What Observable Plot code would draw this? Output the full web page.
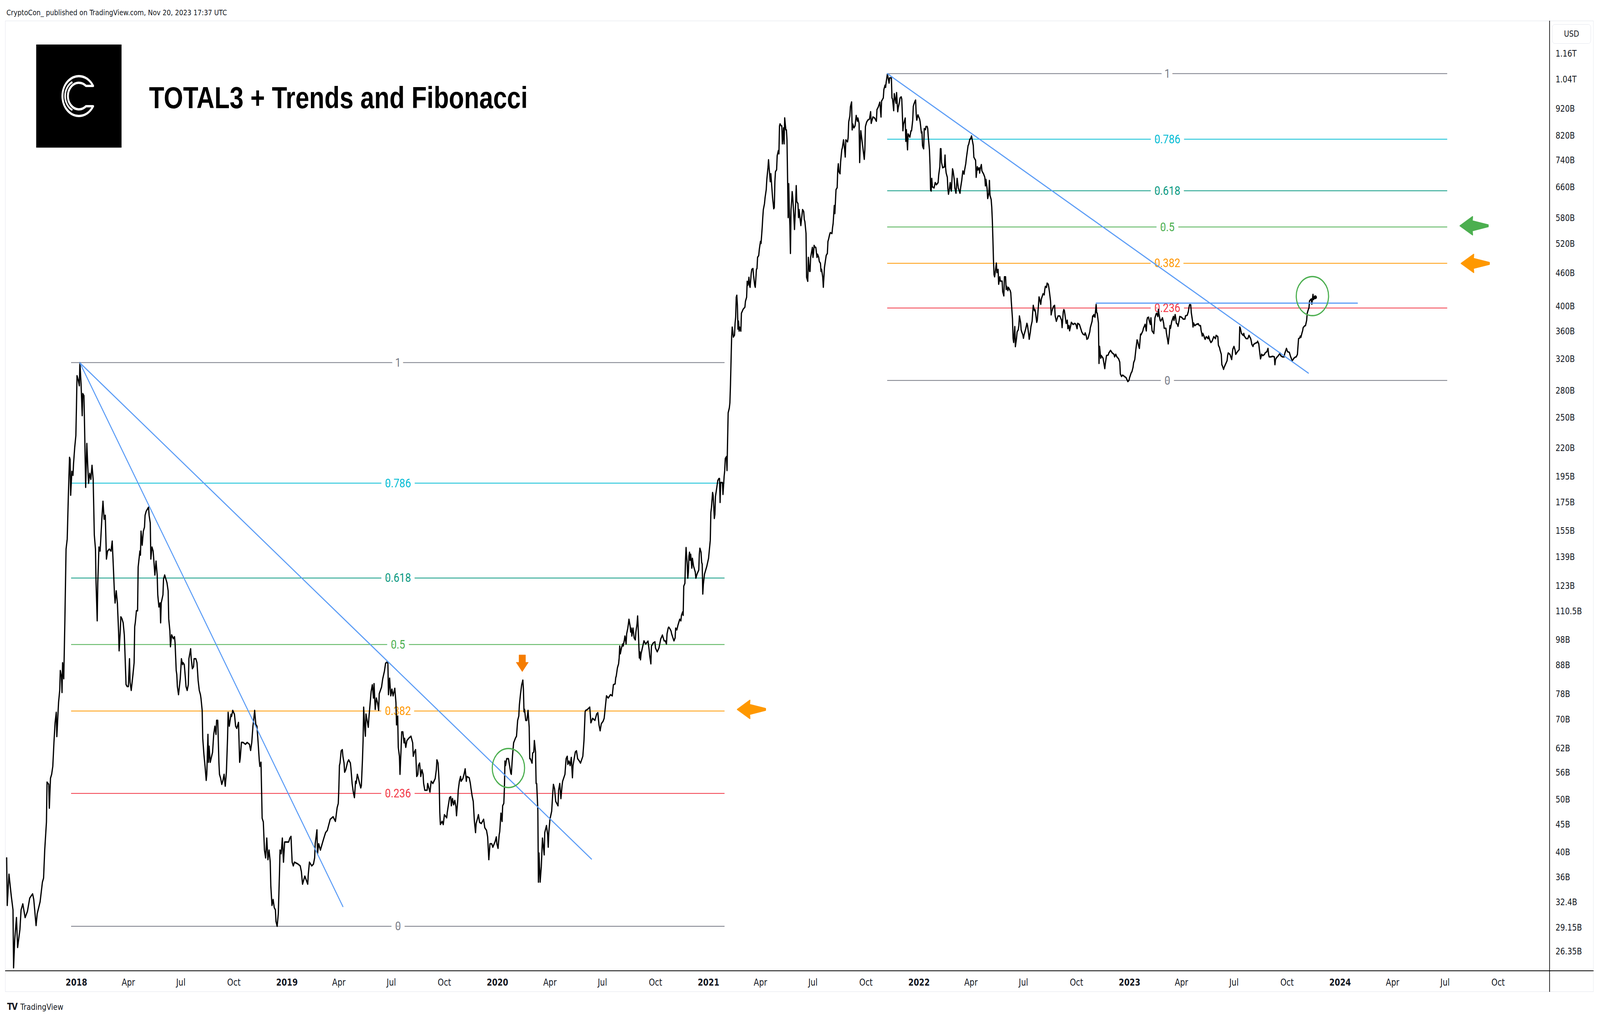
<!DOCTYPE html>
<html>
<head>
<meta charset="utf-8">
<script src="https://cdn.jsdelivr.net/npm/d3@7"></script>
<script src="https://cdn.jsdelivr.net/npm/@observablehq/plot@0.6"></script>
<style>
html,body{margin:0;padding:0;background:#fff;overflow:hidden;}
#wrap{position:relative;overflow:hidden;width:4950px;height:2612px;}
#page{position:absolute;left:0;top:0;width:4950px;height:2612px;overflow:hidden;background:#fff;font-family:"DejaVu Sans",sans-serif;color:#131722;transform-origin:0 0;}
.abs{position:absolute;}
#pub{left:20px;top:22px;font-size:20px;line-height:20px;white-space:nowrap;}
#panel{left:16px;top:53px;width:4914px;height:2487px;box-sizing:border-box;border:1px solid #e0e3eb;}
#chart{left:16px;top:53px;}
#xline{left:16px;top:2485px;width:4914px;height:2px;background:#000;}
#yline{left:4793px;top:53px;width:2px;height:2487px;background:#000;}
#usd{left:4802px;top:62px;width:120px;height:50px;box-sizing:border-box;border:1px solid #e0e3eb;border-radius:8px;font-size:22px;line-height:48px;text-align:center;}
#logo{left:112px;top:114px;width:264px;height:264px;background:#000;}
#title{left:461px;top:212px;font-family:"Liberation Sans",Arial,sans-serif;font-weight:bold;font-size:77px;line-height:77px;white-space:nowrap;color:#000;}
#tv{left:22px;top:2567px;font-size:22px;line-height:22px;white-space:nowrap;}
#tv b{font-size:24px;letter-spacing:-2px;margin-right:10px;}
</style>
</head>
<body>
<div id="wrap">
<div id="page">
  <div id="pub" class="abs">CryptoCon_ published on TradingView.com, Nov 20, 2023 17:37 UTC</div>
  <div id="panel" class="abs"></div>
  <div id="chart" class="abs"></div>
  <div id="xline" class="abs"></div>
  <div id="yline" class="abs"></div>
  <div id="usd" class="abs">USD</div>
  <div id="logo" class="abs"><svg width="264" height="264" viewBox="0 0 264 264"><path d="M176,106 A51,51 0 1 0 176,158 L154,158 A34,34 0 1 1 154,106 Z" fill="none" stroke="#fff" stroke-width="6" stroke-linejoin="round"/><path d="M112,96 A40,40 0 0 0 112,168" fill="none" stroke="#fff" stroke-width="5"/></svg></div>
  <div id="title" class="abs">TOTAL3 + Trends and Fibonacci</div>
  <div id="tv" class="abs"><b>TV</b>TradingView</div>
</div>
</div>
<script>
// ---------- DATA (values in billions USD) ----------
const t2017 = [["2017-09-02",39.1],["2017-09-03",32.0],["2017-09-06",36.5],["2017-09-10",33.3],["2017-09-13",31.4],["2017-09-14",24.6],["2017-09-16",27.7],["2017-09-19",30.4],["2017-09-21",26.8],["2017-09-25",28.9],["2017-09-27",31.4],["2017-09-30",32.2],["2017-10-04",30.4],["2017-10-08",31.2],["2017-10-12",33.0],["2017-10-17",33.6],["2017-10-19",32.8],["2017-10-23",29.4],["2017-10-25",30.9],["2017-10-30",32.5],["2017-11-03",35.3],["2017-11-05",35.9],["2017-11-07",40.4],["2017-11-10",45.5],["2017-11-11",53.8],["2017-11-14",53.3],["2017-11-15",48.2],["2017-11-17",54.7],["2017-11-19",55.6],["2017-11-21",57.5],["2017-11-23",63.6],["2017-11-25",69.2],["2017-11-27",72.2],["2017-11-28",65.2],["2017-12-01",75.3],["2017-12-03",79.2],["2017-12-04",86.1],["2017-12-06",84.0],["2017-12-07",78.5],["2017-12-08",89.0],["2017-12-10",83.2],["2017-12-12",107.1],["2017-12-14",143.7],["2017-12-16",149.9],["2017-12-18",180.3],["2017-12-20",211.5],["2017-12-21",209.7],["2017-12-22",180.3],["2017-12-24",199.4],["2017-12-26",196.1],["2017-12-27",206.2],["2017-12-29",220.5],["2017-12-31",231.9]];
const t2018 = [["2018-01-01",260.9],["2018-01-02",298.4],["2018-01-04",293.4],["2018-01-06",286.1],["2018-01-07",315.0],["2018-01-09",288.5],["2018-01-11",252.2],["2018-01-12",276.7],["2018-01-14",274.3],["2018-01-15",243.9],["2018-01-17",186.4],["2018-01-19",224.3],["2018-01-21",199.4],["2018-01-22",189.6],["2018-01-24",197.7],["2018-01-26",192.8],["2018-01-28",204.5],["2018-01-30",192.8],["2018-01-31",171.4],["2018-02-01",152.4],["2018-02-03",143.7],["2018-02-04",124.6],["2018-02-06",106.2],["2018-02-07",124.6],["2018-02-09",144.9],["2018-02-11",142.5],["2018-02-12",148.6],["2018-02-14",163.0],["2018-02-16",175.8],["2018-02-18",163.0],["2018-02-20",165.7],["2018-02-22",137.8],["2018-02-24",142.5],["2018-02-27",143.7],["2018-03-02",142.5],["2018-03-04",148.6],["2018-03-06",133.2],["2018-03-08",118.5],["2018-03-09",114.5],["2018-03-11",120.5],["2018-03-13",114.5],["2018-03-15",101.8],["2018-03-16",93.6],["2018-03-18",101.8],["2018-03-19",108.0],["2018-03-21",107.1],["2018-03-23",105.3],["2018-03-25",100.1],["2018-03-26",93.6],["2018-03-28",81.2],["2018-03-30",80.5],["2018-04-01",80.5],["2018-04-03",90.5],["2018-04-04",81.9],["2018-04-06",79.2],["2018-04-09",84.7],["2018-04-11",89.0],["2018-04-12",103.6],["2018-04-13",105.3],["2018-04-15",110.8],["2018-04-17",110.8],["2018-04-18",133.2],["2018-04-21",142.5],["2018-04-22",140.1],["2018-04-23",155.0],["2018-04-25",146.1],["2018-04-27",155.0],["2018-04-29",157.6],["2018-04-30",165.7],["2018-05-02",168.6],["2018-05-04",170.0],["2018-05-06",171.4],["2018-05-07",165.7],["2018-05-09",160.3],["2018-05-10",137.8],["2018-05-12",144.9],["2018-05-14",142.5],["2018-05-16",133.2],["2018-05-17",128.8],["2018-05-19",136.6],["2018-05-21",128.8],["2018-05-22",118.5],["2018-05-24",112.6],["2018-05-26",114.5],["2018-05-27",105.3],["2018-05-28",114.5],["2018-05-31",118.5],["2018-06-01",126.7],["2018-06-03",128.8],["2018-06-07",124.6],["2018-06-09",120.5],["2018-06-10",107.1],["2018-06-12",101.8],["2018-06-13",95.2],["2018-06-15",100.1],["2018-06-18",98.5],["2018-06-20",99.3],["2018-06-21",96.8],["2018-06-23",86.1],["2018-06-24",84.7],["2018-06-25",80.5],["2018-06-27",77.8],["2018-06-30",83.2],["2018-07-02",90.5],["2018-07-04",88.3],["2018-07-05",89.0],["2018-07-07",88.3],["2018-07-09",83.2],["2018-07-10",80.5],["2018-07-12",79.2],["2018-07-14",81.2],["2018-07-15",90.5],["2018-07-18",94.4],["2018-07-19",90.5],["2018-07-21",86.8],["2018-07-23",87.5],["2018-07-24",90.5],["2018-07-27",90.5],["2018-07-29",89.0],["2018-07-31",82.6],["2018-08-02",79.2],["2018-08-04",77.8],["2018-08-05",76.5],["2018-08-07",72.8],["2018-08-08",64.7],["2018-08-10",60.5],["2018-08-12",57.5],["2018-08-14",54.2],["2018-08-15",55.6],["2018-08-17",65.8],["2018-08-18",58.5],["2018-08-19",62.6],["2018-08-21",58.5],["2018-08-25",61.0],["2018-08-27",65.8],["2018-08-29",68.1],["2018-08-31",65.8],["2018-09-01",69.8],["2018-09-03",69.8],["2018-09-05",58.5],["2018-09-06",55.6],["2018-09-08",54.7],["2018-09-10",53.3],["2018-09-12",54.2],["2018-09-14",55.6],["2018-09-16",52.9],["2018-09-18",56.1],["2018-09-20",64.7],["2018-09-21",72.2],["2018-09-23",68.1],["2018-09-26",71.6],["2018-09-27",71.0],["2018-09-29",72.8],["2018-10-02",71.6],["2018-10-04",68.1],["2018-10-06",67.5],["2018-10-09",69.2],["2018-10-11",58.5],["2018-10-12",59.5],["2018-10-14",63.6],["2018-10-17",63.6],["2018-10-21",63.1],["2018-10-24",63.6],["2018-10-28",63.1],["2018-10-30",61.5],["2018-11-01",63.6],["2018-11-03",68.1],["2018-11-05",71.0],["2018-11-06",72.8],["2018-11-08",68.6],["2018-11-10",68.1],["2018-11-12",63.6],["2018-11-14",59.0],["2018-11-15",57.5],["2018-11-17",58.5],["2018-11-19",46.2],["2018-11-21",45.5],["2018-11-23",40.4],["2018-11-25",39.1],["2018-11-27",42.5],["2018-11-29",38.8],["2018-12-01",40.4],["2018-12-03",38.4],["2018-12-04",34.8],["2018-12-06",32.0],["2018-12-08",32.8],["2018-12-10",31.7],["2018-12-12",31.4],["2018-12-13",29.9],["2018-12-15",29.3],["2018-12-17",30.9],["2018-12-19",36.5],["2018-12-20",40.4],["2018-12-22",39.8],["2018-12-24",42.5],["2018-12-26",38.4],["2018-12-28",41.8],["2018-12-31",41.8]];
const t2019 = [["2019-01-04",41.8],["2019-01-06",42.5],["2019-01-08",42.8],["2019-01-10",38.4],["2019-01-12",37.8],["2019-01-14",38.4],["2019-01-20",38.1],["2019-01-24",37.8],["2019-01-26",36.9],["2019-01-28",35.0],["2019-02-01",36.2],["2019-02-06",35.0],["2019-02-07",36.5],["2019-02-09",38.4],["2019-02-13",37.8],["2019-02-16",38.1],["2019-02-18",39.1],["2019-02-19",41.5],["2019-02-22",44.0],["2019-02-23",39.8],["2019-02-25",41.5],["2019-02-28",40.4],["2019-03-04",41.8],["2019-03-06",42.5],["2019-03-09",43.5],["2019-03-12",43.9],["2019-03-17",46.0],["2019-03-22",46.5],["2019-03-26",45.6],["2019-03-29",48.3],["2019-03-31",49.2],["2019-04-01",52.5],["2019-04-02",57.7],["2019-04-03",58.3],["2019-04-05",61.4],["2019-04-07",61.7],["2019-04-08",60.0],["2019-04-10",58.3],["2019-04-11",56.1],["2019-04-13",56.7],["2019-04-16",58.5],["2019-04-18",59.1],["2019-04-21",58.3],["2019-04-22",56.9],["2019-04-24",53.5],["2019-04-26",51.6],["2019-04-28",50.4],["2019-04-30",54.0],["2019-05-01",53.5],["2019-05-03",55.6],["2019-05-05",54.6],["2019-05-07",53.5],["2019-05-09",52.5],["2019-05-10",53.0],["2019-05-12",59.4],["2019-05-13",64.1],["2019-05-14",73.8],["2019-05-16",67.2],["2019-05-17",65.3],["2019-05-18",71.7],["2019-05-20",69.8],["2019-05-22",67.8],["2019-05-23",70.4],["2019-05-25",74.5],["2019-05-27",78.9],["2019-05-29",81.1],["2019-05-31",76.7],["2019-06-01",81.5],["2019-06-03",73.1],["2019-06-05",76.7],["2019-06-07",75.2],["2019-06-09",72.8],["2019-06-10",78.1],["2019-06-14",80.3],["2019-06-16",83.1],["2019-06-19",85.9],["2019-06-21",88.8],["2019-06-23",89.2],["2019-06-25",88.8],["2019-06-26",77.8],["2019-06-28",83.4],["2019-06-30",77.4],["2019-07-02",79.6],["2019-07-04",77.4],["2019-07-07",79.9],["2019-07-09",75.2],["2019-07-10",68.5],["2019-07-12",71.1],["2019-07-13",62.3],["2019-07-15",60.0],["2019-07-16",55.6],["2019-07-18",62.3],["2019-07-19",66.5],["2019-07-21",66.5],["2019-07-23",63.5],["2019-07-24",64.7],["2019-07-26",62.3],["2019-07-28",64.1],["2019-07-31",64.7],["2019-08-04",65.3],["2019-08-07",63.5],["2019-08-08",60.0],["2019-08-10",61.1],["2019-08-12",61.7],["2019-08-14",55.1],["2019-08-16",55.6],["2019-08-17",57.7],["2019-08-19",58.3],["2019-08-21",55.1],["2019-08-23",56.7],["2019-08-25",55.6],["2019-08-26",53.5],["2019-08-28",52.0],["2019-09-01",52.0],["2019-09-02",53.5],["2019-09-04",52.5],["2019-09-06",51.6],["2019-09-08",54.0],["2019-09-11",53.5],["2019-09-15",54.6],["2019-09-17",56.7],["2019-09-18",59.1],["2019-09-20",58.3],["2019-09-22",53.5],["2019-09-23",47.4],["2019-09-24",45.0],["2019-09-27",45.6],["2019-09-29",45.0],["2019-10-01",46.9],["2019-10-05",46.3],["2019-10-06",47.4],["2019-10-08",48.9],["2019-10-10",50.4],["2019-10-12",50.6],["2019-10-13",48.7],["2019-10-15",50.2],["2019-10-17",48.9],["2019-10-19",49.8],["2019-10-21",48.5],["2019-10-22",46.7],["2019-10-24",49.6],["2019-10-25",52.0],["2019-10-27",54.0],["2019-10-29",55.1],["2019-10-30",54.0],["2019-11-02",54.6],["2019-11-04",55.6],["2019-11-06",56.9],["2019-11-08",54.0],["2019-11-09",55.1],["2019-11-13",54.8],["2019-11-15",53.5],["2019-11-16",52.5],["2019-11-18",50.8],["2019-11-20",49.6],["2019-11-22",45.6],["2019-11-24",43.5],["2019-11-25",45.2],["2019-11-27",46.0],["2019-11-29",46.9],["2019-12-01",45.4],["2019-12-04",45.2],["2019-12-08",46.0],["2019-12-10",44.4],["2019-12-13",43.9],["2019-12-15",42.7],["2019-12-17",38.8],["2019-12-19",41.5],["2019-12-22",41.5],["2019-12-24",40.9],["2019-12-28",41.9],["2019-12-30",42.7],["2019-12-31",41.5]];
const t2020 = [["2020-01-02",40.7],["2020-01-04",43.1],["2020-01-05",43.7],["2020-01-07",47.2],["2020-01-09",45.6],["2020-01-10",48.7],["2020-01-12",49.2],["2020-01-13",52.3],["2020-01-14",58.8],["2020-01-15",57.7],["2020-01-17",59.4],["2020-01-20",59.4],["2020-01-22",57.7],["2020-01-24",55.9],["2020-01-25",55.6],["2020-01-27",60.0],["2020-01-29",63.5],["2020-02-01",64.7],["2020-02-03",65.3],["2020-02-05",69.8],["2020-02-07",71.1],["2020-02-08",74.5],["2020-02-10",78.1],["2020-02-11",79.6],["2020-02-12",81.1],["2020-02-14",82.7],["2020-02-15",79.6],["2020-02-16",72.4],["2020-02-17",73.1],["2020-02-19",69.8],["2020-02-21",69.8],["2020-02-23",72.8],["2020-02-25",67.8],["2020-02-26",59.4],["2020-02-27",59.4],["2020-03-01",58.3],["2020-03-02",60.8],["2020-03-04",61.1],["2020-03-05",64.1],["2020-03-07",61.1],["2020-03-08",53.5],["2020-03-09",53.5],["2020-03-11",47.8],["2020-03-12",35.3],["2020-03-13",39.9],["2020-03-15",35.3],["2020-03-17",37.7],["2020-03-19",42.5],["2020-03-20",41.5],["2020-03-22",39.6],["2020-03-23",43.5],["2020-03-26",44.8],["2020-03-28",43.1],["2020-03-29",40.9],["2020-03-30",43.5],["2020-04-01",46.0],["2020-04-04",47.6],["2020-04-06",51.6],["2020-04-07",53.3],["2020-04-09",52.3],["2020-04-11",49.6],["2020-04-15",48.7],["2020-04-16",52.0],["2020-04-18",53.5],["2020-04-20",50.2],["2020-04-22",53.0],["2020-04-23",54.0],["2020-04-27",55.6],["2020-04-29",59.4],["2020-05-01",60.0],["2020-05-02",58.0],["2020-05-04",58.8],["2020-05-06",57.7],["2020-05-08",59.7],["2020-05-10",54.8],["2020-05-11",57.7],["2020-05-15",61.1],["2020-05-17",61.4],["2020-05-19",59.4],["2020-05-22",58.8],["2020-05-24",58.3],["2020-05-28",60.0],["2020-05-30",64.1],["2020-06-01",72.4],["2020-06-02",72.8],["2020-06-05",73.1],["2020-06-09",73.8],["2020-06-11",69.1],["2020-06-14",70.4],["2020-06-18",69.8],["2020-06-21",71.7],["2020-06-23",72.1],["2020-06-25",68.5],["2020-06-27",66.8],["2020-06-29",68.8],["2020-07-02",69.5],["2020-07-04",70.4],["2020-07-06",73.8],["2020-07-08",77.4],["2020-07-11",76.7],["2020-07-15",77.8],["2020-07-18",77.4],["2020-07-20",81.1],["2020-07-23",81.4],["2020-07-24",83.5],["2020-07-25",84.2],["2020-07-27",87.1],["2020-07-29",88.6],["2020-07-30",90.8],["2020-07-31",95.5],["2020-08-01",92.4],["2020-08-03",94.7],["2020-08-05",96.3],["2020-08-06",95.5],["2020-08-08",98.0],["2020-08-09",99.6],["2020-08-11",96.3],["2020-08-12",100.5],["2020-08-14",103.0],["2020-08-15",104.8],["2020-08-16",106.9],["2020-08-18",103.9],["2020-08-19",101.3],["2020-08-20",103.0],["2020-08-21",99.6],["2020-08-23",103.0],["2020-08-25",98.8],["2020-08-27",98.0],["2020-08-28",101.3],["2020-08-30",104.8],["2020-08-31",108.4],["2020-09-01",103.0],["2020-09-03",90.8],["2020-09-04",93.2],["2020-09-05",90.1],["2020-09-06",92.4],["2020-09-09",95.5],["2020-09-11",97.6],["2020-09-14",96.3],["2020-09-17",97.2],["2020-09-18",97.5],["2020-09-20",94.0],["2020-09-21",91.6],["2020-09-23",88.6],["2020-09-24",95.5],["2020-09-27",96.7],["2020-09-30",97.2],["2020-10-01",94.7],["2020-10-04",93.2],["2020-10-07",94.7],["2020-10-10",98.3],["2020-10-13",100.0],["2020-10-16",97.6],["2020-10-18",97.6],["2020-10-20",96.3],["2020-10-21",100.5],["2020-10-23",103.0],["2020-10-24",103.4],["2020-10-26",102.7],["2020-10-28",101.7],["2020-10-29",100.5],["2020-11-01",98.3],["2020-11-02",97.6],["2020-11-04",98.8],["2020-11-05",103.0],["2020-11-07",102.2],["2020-11-09",104.3],["2020-11-12",106.9],["2020-11-14",106.2],["2020-11-15",108.7],["2020-11-17",110.2],["2020-11-18",108.7],["2020-11-19",122.9],["2020-11-21",124.4],["2020-11-22",137.1],["2020-11-23",144.6],["2020-11-25",134.8],["2020-11-26",127.1],["2020-11-27",130.4],["2020-11-28",139.4],["2020-11-29",141.8],["2020-11-30",137.1],["2020-12-01",140.6],["2020-12-03",132.6],["2020-12-04",138.2],["2020-12-06",133.7],["2020-12-09",130.4],["2020-12-10",127.1],["2020-12-12",129.3],["2020-12-15",131.5],["2020-12-16",140.6],["2020-12-17",144.2],["2020-12-19",141.8],["2020-12-20",136.0],["2020-12-21",134.8],["2020-12-22",118.9],["2020-12-23",124.0],["2020-12-25",129.3],["2020-12-26",130.4],["2020-12-29",133.7]];
const t2021 = [["2021-01-01",138.2],["2021-01-02",141.8],["2021-01-04",149.1],["2021-01-05",167.7],["2021-01-06",171.1],["2021-01-08",182.4],["2021-01-09",180.0],["2021-01-10",172.0],["2021-01-11",163.5],["2021-01-12",166.3],["2021-01-13",179.4],["2021-01-14",182.4],["2021-01-16",188.6],["2021-01-17",191.8],["2021-01-19",193.5],["2021-01-20",193.5],["2021-01-21",174.9],["2021-01-22",190.2],["2021-01-25",190.2],["2021-01-26",180.9],["2021-01-28",195.1],["2021-01-29",200.1],["2021-01-30",210.4],["2021-02-01",212.2],["2021-02-02",200.1],["2021-02-03",226.9],["2021-02-04",255.2],["2021-02-06",260.4],["2021-02-07",266.2],["2021-02-08",287.1],["2021-02-09",317.5],["2021-02-10",351.2],["2021-02-11",366.2],["2021-02-12",360.1],["2021-02-13",351.2],["2021-02-15",354.1],["2021-02-16",372.4],["2021-02-17",381.9],["2021-02-18",415.4],["2021-02-19",418.9],["2021-02-20",401.7],["2021-02-21",363.2],["2021-02-22",375.6],["2021-02-23",360.1],["2021-02-24",366.2],["2021-02-26",360.1],["2021-02-27",388.4],["2021-03-02",395.0],["2021-03-05",398.3],["2021-03-06",408.5],["2021-03-08",415.4],["2021-03-09",444.3],["2021-03-10",436.9],["2021-03-11",440.6],["2021-03-12",451.8],["2021-03-13",436.9],["2021-03-14",433.2],["2021-03-16",459.5],["2021-03-17",467.2],["2021-03-19",468.8],["2021-03-20",455.6],["2021-03-22",436.9],["2021-03-23",433.2],["2021-03-25",467.2],["2021-03-26",468.8],["2021-03-27",491.4],["2021-03-29",495.5],["2021-03-30",508.2],["2021-04-01",525.5],["2021-04-02",521.2],["2021-04-04",557.3],["2021-04-05",581.3],["2021-04-06",601.2],["2021-04-08",616.5],["2021-04-09",632.2],["2021-04-11",653.8],["2021-04-12",681.9],["2021-04-14",717.1],["2021-04-15",741.6],["2021-04-16",717.1],["2021-04-18",676.2],["2021-04-19",699.2],["2021-04-21",653.8],["2021-04-22",632.2],["2021-04-24",603.2],["2021-04-25",606.2],["2021-04-26",676.2],["2021-04-27",705.1],["2021-04-29",711.1],["2021-04-30",754.2],["2021-05-02",770.8],["2021-05-03",760.5],["2021-05-04",855.4],["2021-05-05",862.6],["2021-05-07",855.4],["2021-05-08",855.4],["2021-05-09",793.1],["2021-05-11",848.3],["2021-05-12",793.1],["2021-05-13",884.6],["2021-05-15",841.2],["2021-05-16",841.2],["2021-05-17",806.6],["2021-05-18",687.6],["2021-05-19",581.3],["2021-05-20",670.5],["2021-05-21",601.2],["2021-05-22",562.0],["2021-05-23",499.7],["2021-05-24",601.2],["2021-05-25",621.7],["2021-05-26",648.3],["2021-05-27",632.2],["2021-05-29",581.3],["2021-05-30",552.7],["2021-06-01",616.5],["2021-06-02",664.9],["2021-06-03",621.7],["2021-06-05",616.5],["2021-06-06",581.3],["2021-06-07",601.2],["2021-06-10",562.0],["2021-06-13",601.2],["2021-06-15",596.1],["2021-06-16",576.4],["2021-06-17",571.6],["2021-06-19",543.5],["2021-06-20",451.8],["2021-06-22",444.3],["2021-06-23",491.4],["2021-06-25",463.3],["2021-06-26",463.3],["2021-06-27",491.4],["2021-06-30",512.5],["2021-07-01",491.4],["2021-07-02",499.7],["2021-07-03",516.8],["2021-07-05",512.5],["2021-07-06",512.5],["2021-07-08",491.4],["2021-07-09",498.0],["2021-07-11",491.4],["2021-07-12",483.2],["2021-07-14",479.2],["2021-07-15",463.3],["2021-07-16",467.2],["2021-07-18",451.8],["2021-07-19",433.2],["2021-07-21",471.2],["2021-07-23",487.3],["2021-07-24",495.5],["2021-07-26",499.7],["2021-07-27",525.5],["2021-07-28",530.0],["2021-07-30",541.7],["2021-07-31",545.3],["2021-08-03",543.5],["2021-08-04",557.3],["2021-08-05",566.8],["2021-08-07",611.3],["2021-08-08",591.1],["2021-08-09",621.7],["2021-08-10",653.8],["2021-08-12",659.3],["2021-08-13",711.1],["2021-08-14",729.2],["2021-08-15",705.1],["2021-08-17",699.2],["2021-08-18",735.4],["2021-08-20",773.4],["2021-08-21",779.9],["2021-08-23",806.6],["2021-08-25",773.4],["2021-08-26",750.3],["2021-08-27",806.6],["2021-08-30",799.8],["2021-08-31",813.4],["2021-09-01",869.9],["2021-09-03",892.1],["2021-09-04",927.2],["2021-09-06",946.1],["2021-09-07",841.2],["2021-09-08",862.6],["2021-09-10",848.3],["2021-09-12",855.4],["2021-09-14",893.7],["2021-09-16",872.4],["2021-09-17",884.2],["2021-09-19",864.6],["2021-09-20",733.1],["2021-09-21",794.4],["2021-09-22",838.1],["2021-09-24",805.1],["2021-09-26",773.4],["2021-09-28",743.0],["2021-09-29",773.4],["2021-09-30",853.1],["2021-10-02",868.5],["2021-10-04",876.3],["2021-10-07",880.2],["2021-10-09",908.1],["2021-10-10",864.6],["2021-10-13",888.1],["2021-10-16",884.2],["2021-10-19",872.4],["2021-10-20",916.3],["2021-10-22",924.5],["2021-10-25",945.3],["2021-10-27",888.1],["2021-10-28",949.6],["2021-10-31",962.4],["2021-11-01",997.3],["2021-11-03",1015.3],["2021-11-04",1006.3],["2021-11-05",1029.0],["2021-11-07",1064.0],["2021-11-08",1052.2],["2021-11-10",1024.4],["2021-11-11",1047.5],["2021-11-14",1047.5],["2021-11-15",962.4],["2021-11-16",958.1],["2021-11-18",912.2],["2021-11-19",979.7],["2021-11-20",966.7],["2021-11-22",941.2],["2021-11-23",984.1],["2021-11-25",908.1],["2021-11-26",924.5],["2021-11-28",945.3],["2021-11-29",962.4],["2021-12-01",966.7],["2021-12-02",958.1],["2021-12-03",900.1],["2021-12-04",838.1],["2021-12-05",860.8],["2021-12-08",884.2],["2021-12-09",801.5],["2021-12-10",841.8],["2021-12-12",773.4],["2021-12-13",826.9],["2021-12-16",815.9],["2021-12-18",838.1],["2021-12-19",838.1],["2021-12-21",876.3],["2021-12-22",928.6],["2021-12-23",937.0],["2021-12-25",949.6],["2021-12-26",953.8],["2021-12-27",900.1],["2021-12-28",876.3],["2021-12-30",896.1]];
const t2022 = [["2022-01-02",880.2],["2022-01-03",868.5],["2022-01-05",830.6],["2022-01-06",834.3],["2022-01-07",787.3],["2022-01-08",780.3],["2022-01-09",776.8],["2022-01-10",845.6],["2022-01-12",841.8],["2022-01-13",853.1],["2022-01-15",853.1],["2022-01-16",845.6],["2022-01-17",815.9],["2022-01-19",773.4],["2022-01-20",726.6],["2022-01-21",652.8],["2022-01-22",649.9],["2022-01-23",685.6],["2022-01-24",661.6],["2022-01-27",658.6],["2022-01-29",673.5],["2022-01-31",667.5],["2022-02-03",673.5],["2022-02-04",694.9],["2022-02-06",720.1],["2022-02-07",776.8],["2022-02-08",776.8],["2022-02-09",733.1],["2022-02-11",716.9],["2022-02-14",720.1],["2022-02-15",756.3],["2022-02-16",716.9],["2022-02-17",701.1],["2022-02-19",688.7],["2022-02-20",655.7],["2022-02-21",641.3],["2022-02-22",649.9],["2022-02-24",673.5],["2022-02-25",655.7],["2022-02-26",649.9],["2022-02-28",713.7],["2022-03-01",707.4],["2022-03-03",682.6],["2022-03-04",658.6],["2022-03-06",644.1],["2022-03-07",664.5],["2022-03-08",685.6],["2022-03-10",658.6],["2022-03-13",644.1],["2022-03-14",658.6],["2022-03-16",679.5],["2022-03-17",694.9],["2022-03-18",707.4],["2022-03-20",698.0],["2022-03-21",710.5],["2022-03-23",729.8],["2022-03-24",746.3],["2022-03-26",773.4],["2022-03-27",787.3],["2022-03-28",790.8],["2022-03-30",808.7],["2022-03-31",808.7],["2022-04-02",819.6],["2022-04-03",808.7],["2022-04-05",787.3],["2022-04-06",749.6],["2022-04-07",746.3],["2022-04-09",739.7],["2022-04-10",688.7],["2022-04-12",720.1],["2022-04-13",710.5],["2022-04-15",716.9],["2022-04-16",701.1],["2022-04-17",713.7],["2022-04-19",726.6],["2022-04-20",707.4],["2022-04-23",698.0],["2022-04-25",688.7],["2022-04-26",664.5],["2022-04-27",682.6],["2022-04-29",655.7],["2022-04-30",629.9],["2022-05-02",644.1],["2022-05-03",679.5],["2022-05-04",638.4],["2022-05-06",627.1],["2022-05-07",607.8],["2022-05-08",576.1],["2022-05-09",531.7],["2022-05-10",486.3],["2022-05-11",456.8],["2022-05-12",452.8],["2022-05-13",460.9],["2022-05-15",479.8],["2022-05-16",460.9],["2022-05-18",467.1],["2022-05-19",438.8],["2022-05-21",452.8],["2022-05-22",444.7],["2022-05-25",444.7],["2022-05-26",425.3],["2022-05-28",417.8],["2022-05-29",452.8],["2022-05-31",452.8],["2022-06-01",429.2],["2022-06-02",434.9],["2022-06-04",427.2],["2022-06-05",433.0],["2022-06-08",427.2],["2022-06-09",423.4],["2022-06-10",406.8],["2022-06-12",378.8],["2022-06-13",349.5],["2022-06-14",343.4],["2022-06-16",367.1],["2022-06-17",337.3],["2022-06-19",349.5],["2022-06-20",359.0],["2022-06-22",362.2],["2022-06-23",368.8],["2022-06-24",383.9],["2022-06-26",373.7],["2022-06-27",362.2],["2022-06-28",359.0],["2022-06-30",354.3],["2022-07-01",349.5],["2022-07-02",354.3],["2022-07-05",363.9],["2022-07-07",372.1],["2022-07-08",368.8],["2022-07-10",355.8],["2022-07-11",348.0],["2022-07-13",359.0],["2022-07-14",367.1],["2022-07-16",375.4],["2022-07-17",389.0],["2022-07-18",401.4],["2022-07-20",392.5],["2022-07-21",394.3],["2022-07-22",389.0],["2022-07-24",373.7],["2022-07-25",377.1],["2022-07-27",401.4],["2022-07-28",415.9],["2022-07-29",412.3],["2022-07-31",403.2],["2022-08-01",412.3],["2022-08-04",421.6],["2022-08-06",419.7],["2022-08-07",429.2],["2022-08-08",434.9],["2022-08-10",433.0],["2022-08-11",440.8],["2022-08-13",438.8],["2022-08-14",433.0],["2022-08-15",425.3],["2022-08-17",408.6],["2022-08-18",385.6],["2022-08-19",390.8],["2022-08-22",399.6],["2022-08-24",401.4],["2022-08-25",383.9],["2022-08-27",375.4],["2022-08-30",383.9],["2022-09-02",383.9],["2022-09-05",377.1],["2022-09-06",365.5],["2022-09-08",390.8],["2022-09-09",394.3],["2022-09-10",392.5],["2022-09-12",378.8],["2022-09-13",372.1],["2022-09-15",377.1],["2022-09-16",363.9],["2022-09-18",368.8],["2022-09-19",360.6],["2022-09-21",368.8],["2022-09-22",373.7],["2022-09-25",370.4],["2022-09-28",372.1],["2022-09-30",370.4],["2022-10-02",363.9],["2022-10-03",372.1],["2022-10-06",370.4],["2022-10-09",362.2],["2022-10-10",359.0],["2022-10-12",355.8],["2022-10-15",354.3],["2022-10-16",357.4],["2022-10-18",352.7],["2022-10-19",348.0],["2022-10-21",349.5],["2022-10-22",352.7],["2022-10-24",359.0],["2022-10-25",365.5],["2022-10-26",368.8],["2022-10-28",375.4],["2022-10-29",383.9],["2022-10-30",383.0],["2022-10-31",386.1],["2022-11-02",381.9],["2022-11-04",402.8],["2022-11-05",389.3],["2022-11-06",388.3],["2022-11-08",372.6],["2022-11-09",314.3],["2022-11-10",337.6],["2022-11-12",321.3],["2022-11-13",324.8],["2022-11-16",321.3],["2022-11-19",307.5],["2022-11-20",314.3],["2022-11-22",324.8],["2022-11-25",325.7],["2022-11-26",328.4],["2022-11-29",332.1],["2022-12-02",328.4],["2022-12-05",326.6],["2022-12-06",323.1],["2022-12-08",326.6],["2022-12-10",323.1],["2022-12-13",320.4],["2022-12-15",316.0],["2022-12-16",300.8],["2022-12-18",297.5],["2022-12-20",299.2],["2022-12-23",297.5],["2022-12-26",295.9],["2022-12-28",292.7],["2022-12-29",291.1],["2022-12-31",292.7]];
const t2023 = [["2023-01-01",295.9],["2023-01-04",302.5],["2023-01-05",303.3],["2023-01-07",309.2],["2023-01-08",315.2],["2023-01-10",319.5],["2023-01-11",326.6],["2023-01-12",333.9],["2023-01-14",347.0],["2023-01-15",345.1],["2023-01-17",337.6],["2023-01-18",334.8],["2023-01-20",355.6],["2023-01-21",354.7],["2023-01-24",360.5],["2023-01-25",364.5],["2023-01-28",370.6],["2023-01-30",360.5],["2023-01-31",376.7],["2023-02-01",380.9],["2023-02-03",381.9],["2023-02-04",376.7],["2023-02-06",370.6],["2023-02-07",380.9],["2023-02-09",360.5],["2023-02-12",356.6],["2023-02-13",368.5],["2023-02-14",380.9],["2023-02-16",387.2],["2023-02-17",388.3],["2023-02-19",383.0],["2023-02-20",394.7],["2023-02-21",387.2],["2023-02-23",376.7],["2023-02-24",375.7],["2023-02-26",378.8],["2023-02-27",380.9],["2023-03-01",372.6],["2023-03-02",364.5],["2023-03-05",364.5],["2023-03-06",356.6],["2023-03-08",347.0],["2023-03-09",341.3],["2023-03-11",356.6],["2023-03-12",368.5],["2023-03-13",364.5],["2023-03-15",374.7],["2023-03-18",383.0],["2023-03-19",376.7],["2023-03-21",386.1],["2023-03-22",380.9],["2023-03-23",372.6],["2023-03-25",370.6],["2023-03-26",367.5],["2023-03-28",376.7],["2023-03-29",383.0],["2023-04-01",381.9],["2023-04-04",378.8],["2023-04-07",378.8],["2023-04-08",384.0],["2023-04-11",385.1],["2023-04-13",391.5],["2023-04-14",398.0],["2023-04-15",402.4],["2023-04-17",402.4],["2023-04-18",389.3],["2023-04-20",376.7],["2023-04-21",366.5],["2023-04-22",372.6],["2023-04-24",368.5],["2023-04-27",370.6],["2023-04-30",371.6],["2023-05-02",368.5],["2023-05-04",368.5],["2023-05-05",361.5],["2023-05-07",352.7],["2023-05-08",356.6],["2023-05-10",352.7],["2023-05-11",349.8],["2023-05-12",347.9],["2023-05-14",351.8],["2023-05-17",348.9],["2023-05-18",352.7],["2023-05-20",347.0],["2023-05-22",343.2],["2023-05-24",345.1],["2023-05-27",351.8],["2023-05-30",348.9],["2023-05-31",353.7],["2023-06-03",351.8],["2023-06-04",339.4],["2023-06-06",335.7],["2023-06-07",332.1],["2023-06-09",326.6],["2023-06-10",312.6],["2023-06-11",310.9],["2023-06-13",306.6],["2023-06-14",309.2],["2023-06-16",312.6],["2023-06-19",317.8],["2023-06-20",324.8],["2023-06-21",328.4],["2023-06-24",326.6],["2023-06-27",319.5],["2023-06-29",333.9],["2023-06-30",335.7],["2023-07-01",337.6],["2023-07-03",332.1],["2023-07-04",326.6],["2023-07-07",330.2],["2023-07-10",333.0],["2023-07-11",366.5],["2023-07-12",364.5],["2023-07-14",356.6],["2023-07-17",353.7],["2023-07-18",356.6],["2023-07-19",352.7],["2023-07-22",348.9],["2023-07-25",348.9],["2023-07-27",353.7],["2023-07-30",348.9],["2023-07-31",345.1],["2023-08-01",340.4],["2023-08-03",337.6],["2023-08-04",340.4],["2023-08-07",342.2],["2023-08-10",343.2],["2023-08-11",345.1],["2023-08-13",341.3],["2023-08-14",333.9],["2023-08-16",320.4],["2023-08-17",323.1],["2023-08-18",326.6],["2023-08-20",324.8],["2023-08-23",326.6],["2023-08-24",328.4],["2023-08-27",330.2],["2023-08-29",334.8],["2023-08-30",326.6],["2023-08-31",323.1],["2023-09-03",323.1],["2023-09-06",323.9],["2023-09-09",323.1],["2023-09-10",312.6],["2023-09-11",319.5],["2023-09-13",322.2],["2023-09-16",324.8],["2023-09-19",328.4],["2023-09-20",324.8],["2023-09-23",323.1],["2023-09-26",323.1],["2023-09-27",327.5],["2023-09-30",334.8],["2023-10-02",330.2],["2023-10-05",329.3],["2023-10-07",323.9],["2023-10-10",317.8],["2023-10-13",321.3],["2023-10-16",323.1],["2023-10-17",323.1],["2023-10-19",326.6],["2023-10-20",337.6],["2023-10-21",348.9],["2023-10-23",349.8],["2023-10-24",352.7],["2023-10-25",350.8],["2023-10-27",357.6],["2023-10-28",360.5],["2023-10-29",365.5],["2023-11-01",368.5],["2023-11-02",368.5],["2023-11-04",376.7],["2023-11-05",388.3],["2023-11-07",394.7],["2023-11-08",396.9],["2023-11-09",409.0],["2023-11-11",411.3],["2023-11-12",412.4],["2023-11-13",403.5],["2023-11-15",420.4],["2023-11-16",411.3],["2023-11-17",413.5],["2023-11-19",415.4]];

// Fibonacci retracements (log scale), level values
const fibRatios = ["0", "0.236", "0.382", "0.5", "0.618", "0.786", "1"];
const fibColors = ["#787b86", "#f23645", "#ff9800", "#4caf50", "#089981", "#00bcd4", "#787b86"];
const fibLeftValues = [29.3, 51.3, 72.6, 96.1, 127.2, 189.7, 315.4];
const fibRightValues = [292.5, 396.9, 479.4, 558.5, 650.6, 808.5, 1066.4];
const fibLeftSpan = ["2017-12-23", "2021-01-29"];
const fibRightSpan = ["2021-11-07", "2024-07-05"];

// Trend lines: [start date, start value, end date, end value]
const trendLines = [
  ["2018-01-07", 315.0, "2019-04-08", 31.84],
  ["2018-01-07", 315.0, "2020-06-12", 38.9],
  ["2021-11-07", 1066.0, "2023-11-07", 301.7],
  ["2022-11-04", 405.2, "2024-01-31", 405.2]
];

// Annotations
const circleMarks = [["2020-01-20", 57.1], ["2023-11-14", 417.4]];
const leftArrows = [["2021-02-20", 73.1, "#ff9800"], ["2024-07-27", 561.4, "#4caf50"], ["2024-07-29", 479.1, "#ff9800"]];
const downArrows = [["2020-02-13", 85.7, "#f57c00"]];

// Axes
const yTicks = [1160, 1040, 920, 820, 740, 660, 580, 520, 460, 400, 360, 320, 280, 250, 220, 195, 175, 155, 139, 123, 110.5, 98, 88, 78, 70, 62, 56, 50, 45, 40, 36, 32.4, 29.15, 26.35];
const yearTicks = ["2018-01-01", "2019-01-01", "2020-01-01", "2021-01-01", "2022-01-01", "2023-01-01", "2024-01-01"];
const monthTicks = ["2018-04-01","2018-07-01","2018-10-01","2019-04-01","2019-07-01","2019-10-01","2020-04-01","2020-07-01","2020-10-01","2021-04-01","2021-07-01","2021-10-01","2022-04-01","2022-07-01","2022-10-01","2023-04-01","2023-07-01","2023-10-01","2024-04-01","2024-07-01","2024-10-01"];
const monthNames = ["Jan","Feb","Mar","Apr","May","Jun","Jul","Aug","Sep","Oct","Nov","Dec"];
const xDomain = ["2017-08-30T17:00:00Z", "2024-12-29T12:00:00Z"];
const yDomain = [24.27, 1331.6];

// ---------- BUILD ----------
const D = s => new Date(s);
const series = [].concat(t2017, t2018, t2019, t2020, t2021, t2022, t2023).map(([d, v]) => ({date: D(d), value: v}));
const last = series[series.length - 1];

function fibRows(values, span) {
  const x1 = D(span[0]), x2 = D(span[1]);
  const mid = new Date((+x1 + +x2) / 2);
  return values.map((v, i) => ({x1, x2, mid, value: v, label: fibRatios[i], color: fibColors[i]}));
}
const fibs = fibRows(fibLeftValues, fibLeftSpan).concat(fibRows(fibRightValues, fibRightSpan));
const trends = trendLines.map(([a, b, c, d]) => ({x1: D(a), y1: b, x2: D(c), y2: d}));
const circles = circleMarks.map(([d, v]) => ({date: D(d), value: v}));
const lArrows = leftArrows.map(([d, v, c]) => ({date: D(d), value: v, color: c}));
const dArrows = downArrows.map(([d, v, c]) => ({date: D(d), value: v, color: c}));

const leftArrowSymbol = {
  draw(ctx) {
    ctx.moveTo(0, 0);
    ctx.lineTo(38.7, -23.3);
    ctx.lineTo(37.7, -12.5);
    ctx.lineTo(87, -2.2);
    ctx.lineTo(87, 2.2);
    ctx.lineTo(37.7, 12.5);
    ctx.lineTo(38.7, 23.3);
    ctx.closePath();
  }
};
const downArrowSymbol = {
  draw(ctx) {
    ctx.moveTo(0, 0);
    ctx.lineTo(-19, -24);
    ctx.lineTo(-10, -24);
    ctx.lineTo(-10, -43);
    ctx.lineTo(10, -43);
    ctx.lineTo(10, -24);
    ctx.lineTo(19, -24);
    ctx.closePath();
  }
};

const fmtY = v => v >= 1000 ? (v / 1000).toFixed(2) + "T" : v + "B";

const chart = Plot.plot({
  width: 4914,
  height: 2487,
  marginTop: 0,
  marginBottom: 54,
  marginLeft: 0,
  marginRight: 136,
  style: {fontFamily: "'DejaVu Sans', sans-serif", fontSize: "23px", color: "#131722", background: "transparent", overflow: "visible"},
  x: {type: "utc", domain: xDomain.map(D), label: null},
  y: {type: "log", domain: yDomain, label: null, axis: null},
  color: {type: "identity"},
  marks: [
    // price-scale labels (as text so that every label of the log scale is shown)
    Plot.text(yTicks, {y: d => d, text: fmtY, frameAnchor: "right", dx: 18, textAnchor: "start", fontSize: 23, fill: "#131722"}),
    Plot.axisX({ticks: yearTicks.map(D), tickFormat: d => String(d.getUTCFullYear()), tickSize: 0, tickPadding: 20, fontSize: 24, fontWeight: "bold", label: null}),
    Plot.axisX({ticks: monthTicks.map(D), tickFormat: d => monthNames[d.getUTCMonth()], tickSize: 0, tickPadding: 20, fontSize: 24, label: null}),
    Plot.ruleY(fibs, {y: "value", x1: "x1", x2: "x2", stroke: "color", strokeWidth: 2}),
    Plot.text(fibs, {x: "mid", y: "value", text: "label", fill: "color", stroke: "white", strokeWidth: 26, strokeLinejoin: "round", fontSize: 32, fontFamily: "Roboto, sans-serif"}),
    Plot.line(series, {x: "date", y: "value", stroke: "#000", strokeWidth: 3.8, strokeLinejoin: "round", strokeLinecap: "round"}),
    Plot.dot([last], {x: "date", y: "value", r: 5, fill: "#000"}),
    Plot.link(trends, {x1: "x1", y1: "y1", x2: "x2", y2: "y2", stroke: "#5b9cf6", strokeWidth: 3, strokeLinecap: "round"}),
    Plot.dot(circles, {x: "date", y: "value", r: 50, stroke: "#4caf50", strokeWidth: 3.5, fill: "none"}),
    Plot.dot(lArrows, {x: "date", y: "value", symbol: leftArrowSymbol, fill: "color", stroke: "color", strokeWidth: 3, strokeLinejoin: "round"}),
    Plot.dot(dArrows, {x: "date", y: "value", symbol: downArrowSymbol, fill: "color", stroke: "color", strokeWidth: 1, strokeLinejoin: "round"})
  ]
});
document.getElementById("chart").appendChild(chart);

// Fit the 4950x2612 layout exactly into the viewport the page is given
function fitPage() {
  const vw = window.innerWidth || document.documentElement.clientWidth;
  const vh = window.innerHeight || document.documentElement.clientHeight;
  const sx = vw / 4950, sy = vh / 2612;
  const wrap = document.getElementById("wrap");
  wrap.style.width = vw + "px";
  wrap.style.height = vh + "px";
  document.getElementById("page").style.transform =
    (Math.abs(sx - 1) > 0.001 || Math.abs(sy - 1) > 0.001) ? `scale(${sx}, ${sy})` : "";
}
fitPage();
window.addEventListener("resize", fitPage);
</script>
</body>
</html>
